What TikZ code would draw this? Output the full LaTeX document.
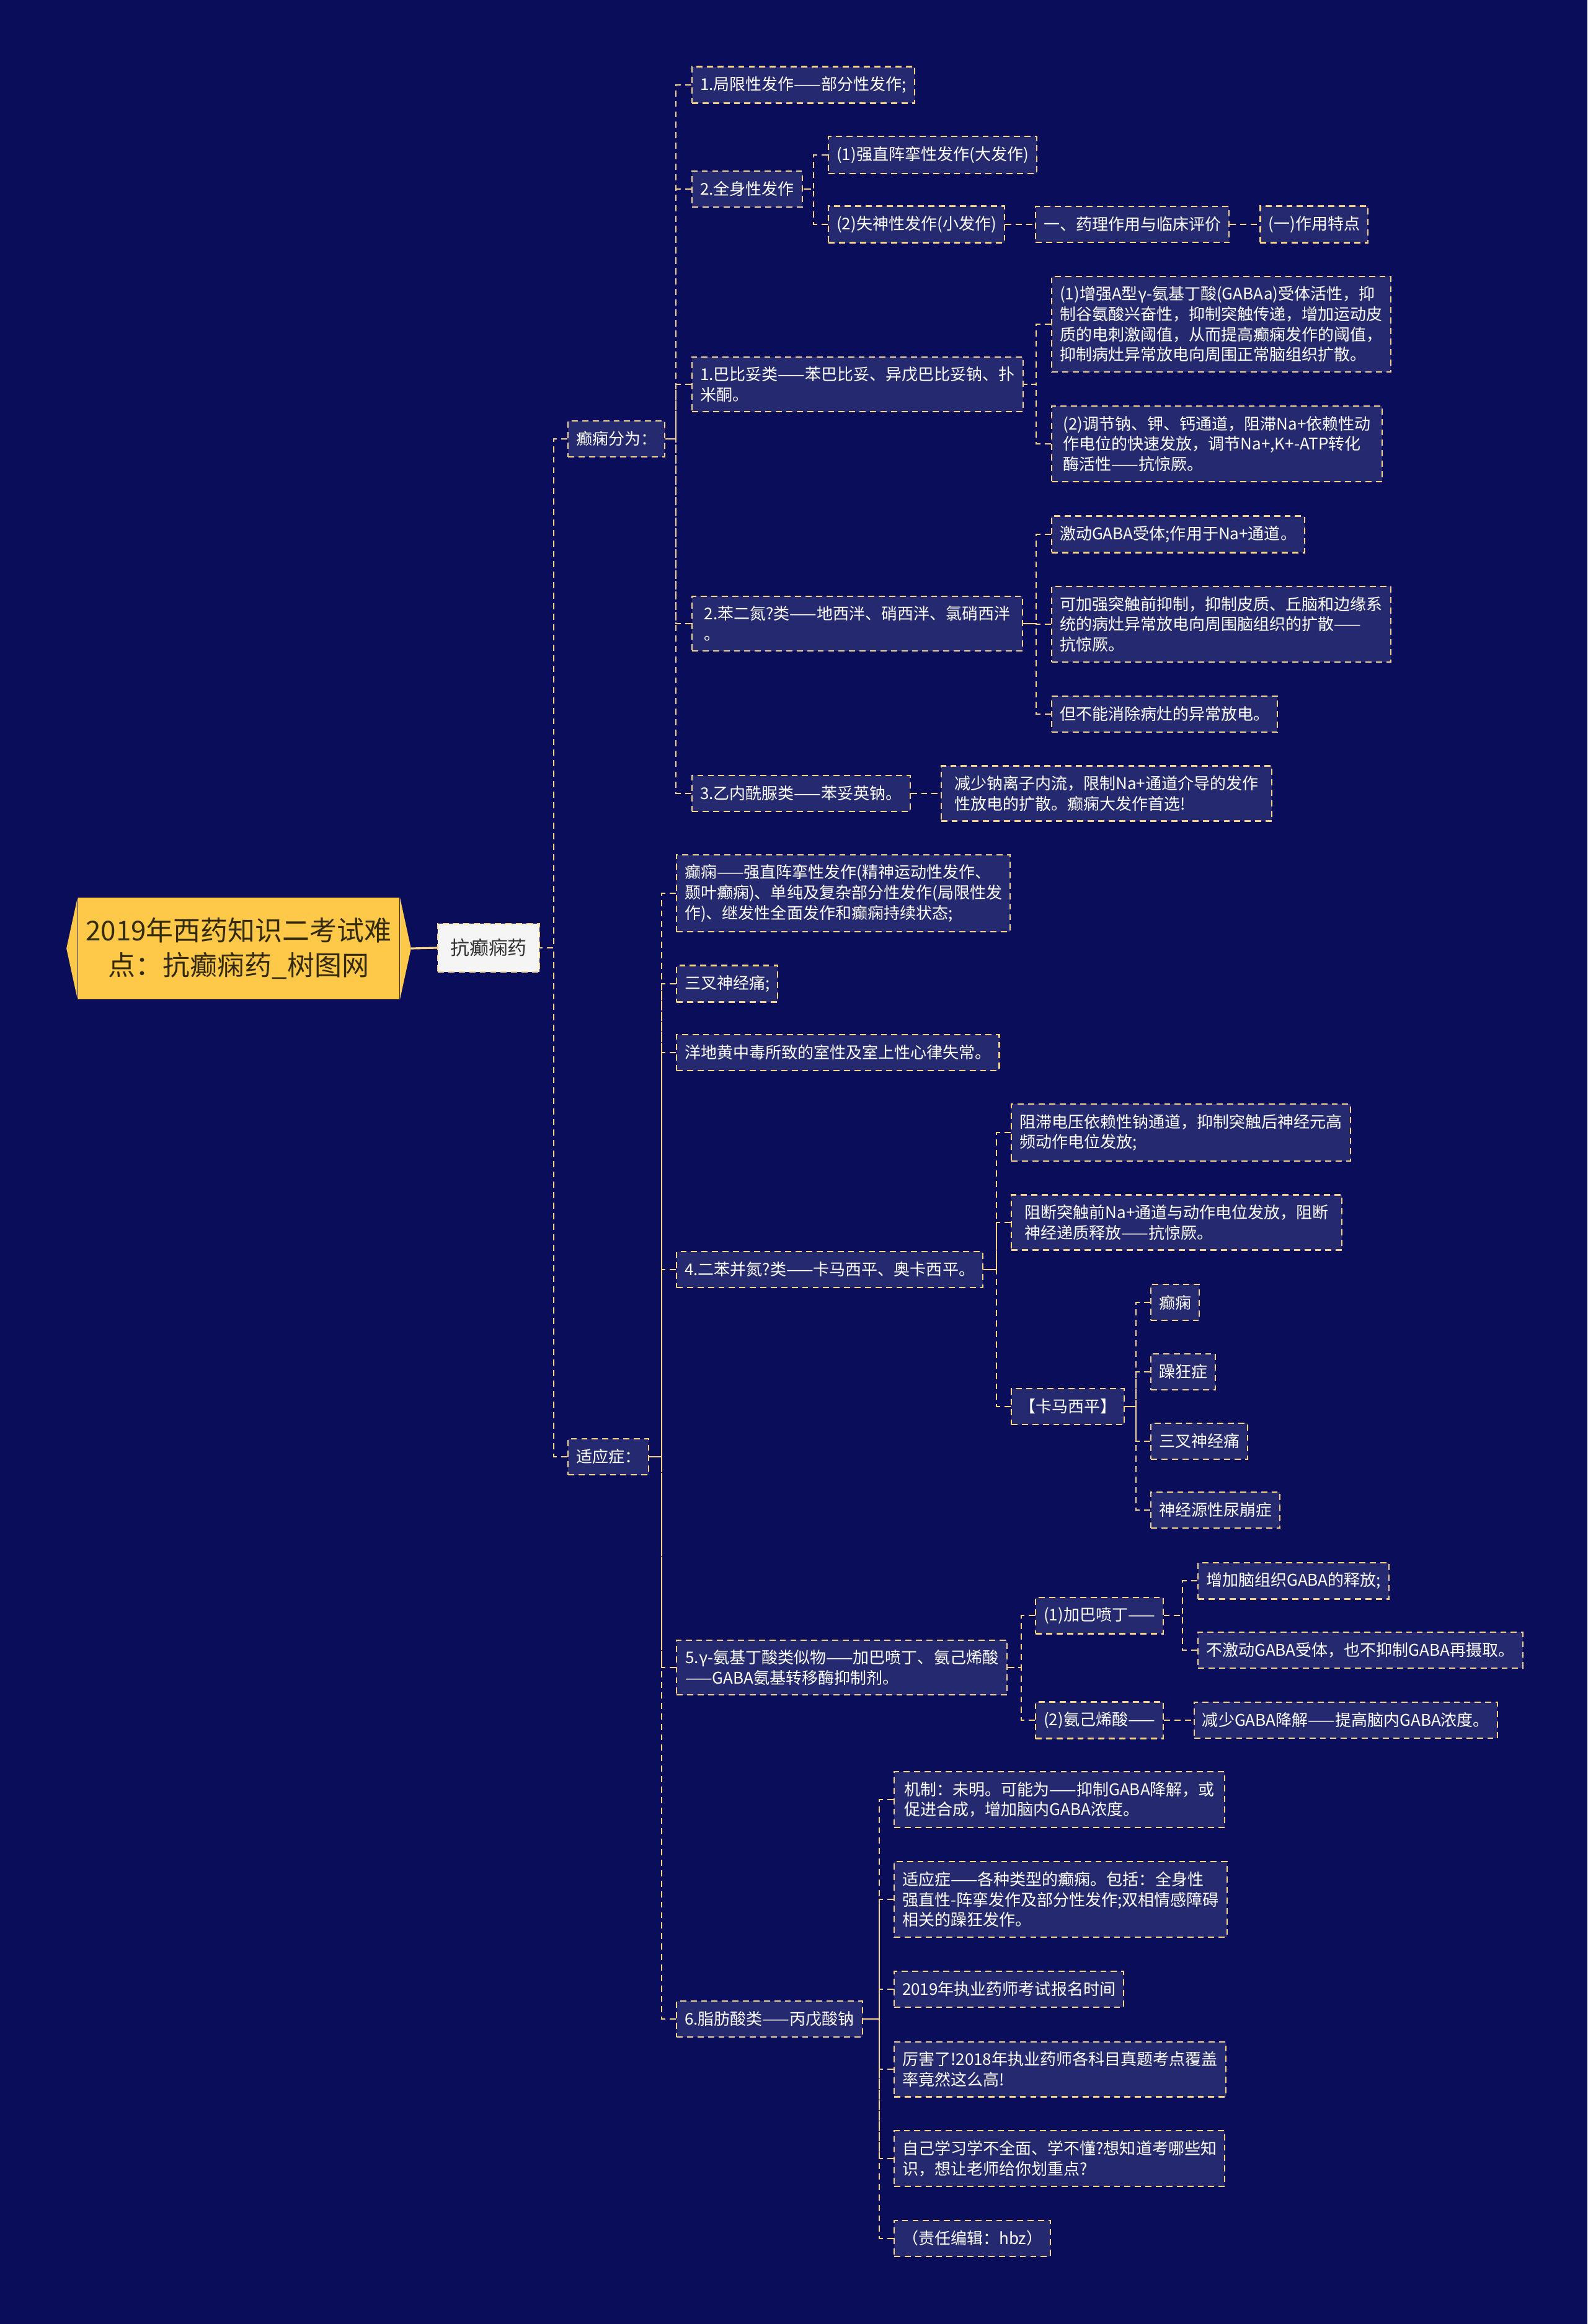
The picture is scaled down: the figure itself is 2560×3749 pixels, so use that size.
\documentclass[tikz,border=0pt]{standalone}
\usepackage{fontspec}
\setmainfont{Noto Sans CJK SC}
\usepackage{tikz}
\usetikzlibrary{positioning}
\definecolor{mapbg}{RGB}{10,14,90}
\definecolor{boxfill}{RGB}{36,41,112}
\definecolor{linegold}{RGB}{246,211,135}
\definecolor{rootgold}{RGB}{254,200,72}
\definecolor{roottext}{RGB}{52,42,12}
\definecolor{hubfill}{RGB}{245,245,245}

\tikzstyle{topic} = [rectangle, fill=rootgold, text=roottext,
font=\fontsize{12.5pt}{16.2pt}\selectfont, align=center,
minimum width=5.18cm, minimum height=1.64cm, inner sep=0pt]
\tikzstyle{hub} = [rectangle, fill=hubfill, draw=linegold, line width=0.6pt,
dash pattern=on 2.8pt off 2pt, text=black!80,
font=\fontsize{8.8pt}{10pt}\selectfont, inner xsep=0.2cm, minimum height=0.78cm]
\tikzstyle{leaf} = [rectangle, fill=boxfill, draw=linegold, line width=0.6pt,
dash pattern=on 2.8pt off 2pt, text=white,
font=\fontsize{7.4pt}{9.3pt}\selectfont, align=left,
inner xsep=0.13cm, inner ysep=0.16cm, minimum height=0.58cm, anchor=west]
\tikzstyle{wideleaf} = [leaf, minimum width=5.33cm]
\tikzstyle{link} = [draw=linegold, line width=0.6pt, dash pattern=on 2.8pt off 2pt]

\begin{document}
\begin{tikzpicture}[x=0.01cm, y=-0.01cm, node distance=0.48cm]
    \fill[mapbg] (0,0) rectangle (2560,3749);
    \useasboundingbox (0,0) rectangle (2560,3749);

    % centre
    \node (root) [topic] at (385,1530) {2019年西药知识二考试难\\点：抗癫痫药\_树图网};
    \fill[rootgold] (root.north west) -- ([xshift=-0.18cm]root.west) -- (root.south west) -- cycle;
    \fill[rootgold] (root.north east) -- ([xshift=0.18cm]root.east) -- (root.south east) -- cycle;
    \node (hub) [hub] at (788,1529) {抗癫痫药};
    \node (epi)   [leaf] at (915,708)  {癫痫分为：};
    \node (indic) [leaf] at (915,2350) {适应症：};

    % 癫痫分为
    \node (focal)    [leaf] at (1115,137) {1.局限性发作——部分性发作;};
    \node (general)  [leaf] at (1115,305) {2.全身性发作};
    \node (tonic)    [leaf] at (1335,250) {(1)强直阵挛性发作(大发作)};
    \node (absence)  [leaf] at (1335,362) {(2)失神性发作(小发作)};
    \node (pharm)    [leaf, right=of absence] {一、药理作用与临床评价};
    \node (feature)  [leaf, right=of pharm]   {(一)作用特点};
    \node (barb)     [wideleaf] at (1115,620) {1.巴比妥类——苯巴比妥、异戊巴比妥钠、扑\\米酮。};
    \node (barbA)    [wideleaf] at (1695,523) {(1)增强A型γ-氨基丁酸(GABAa)受体活性，抑\\制谷氨酸兴奋性，抑制突触传递，增加运动皮\\质的电刺激阈值，从而提高癫痫发作的阈值，\\抑制病灶异常放电向周围正常脑组织扩散。};
    \node (barbB)    [wideleaf] at (1695,716) {(2)调节钠、钾、钙通道，阻滞Na+依赖性动\\作电位的快速发放，调节Na+,K+-ATP转化\\酶活性——抗惊厥。};
    \node (benzo)    [wideleaf] at (1115,1006) {2.苯二氮?类——地西泮、硝西泮、氯硝西泮\\。};
    \node (benzoA)   [leaf] at (1695,862)  {激动GABA受体;作用于Na+通道。};
    \node (benzoB)   [wideleaf] at (1695,1007) {可加强突触前抑制，抑制皮质、丘脑和边缘系\\统的病灶异常放电向周围脑组织的扩散——\\抗惊厥。};
    \node (benzoC)   [leaf] at (1695,1152) {但不能消除病灶的异常放电。};
    \node (hydan)    [leaf] at (1115,1280) {3.乙内酰脲类——苯妥英钠。};
    \node (hydanA)   [wideleaf, right=of hydan] {减少钠离子内流，限制Na+通道介导的发作\\性放电的扩散。癫痫大发作首选!};

    % 适应症
    \node (useEpi)   [wideleaf] at (1090,1441) {癫痫——强直阵挛性发作(精神运动性发作、\\颞叶癫痫)、单纯及复杂部分性发作(局限性发\\作)、继发性全面发作和癫痫持续状态;};
    \node (useTrig)  [leaf] at (1090,1587) {三叉神经痛;};
    \node (digox)    [leaf] at (1090,1698) {洋地黄中毒所致的室性及室上性心律失常。};
    \node (carba)    [leaf] at (1090,2048) {4.二苯并氮?类——卡马西平、奥卡西平。};
    \node (carbaA)   [wideleaf] at (1630,1827) {阻滞电压依赖性钠通道，抑制突触后神经元高\\频动作电位发放;};
    \node (carbaB)   [wideleaf] at (1630,1972) {阻断突触前Na+通道与动作电位发放，阻断\\神经递质释放——抗惊厥。};
    \node (carbaTag) [leaf] at (1630,2269) {【卡马西平】};
    \node (tagEpi)   [leaf] at (1855,2101) {癫痫};
    \node (tagMania) [leaf] at (1855,2213) {躁狂症};
    \node (tagTrig)  [leaf] at (1855,2325) {三叉神经痛};
    \node (tagDI)    [leaf] at (1855,2436) {神经源性尿崩症};
    \node (gabaAna)  [wideleaf] at (1090,2690) {5.γ-氨基丁酸类似物——加巴喷丁、氨己烯酸\\——GABA氨基转移酶抑制剂。};
    \node (gaba)     [leaf] at (1669,2606) {(1)加巴喷丁——};
    \node (gabaA)    [leaf] at (1931,2550) {增加脑组织GABA的释放;};
    \node (gabaB)    [leaf] at (1931,2662) {不激动GABA受体，也不抑制GABA再摄取。};
    \node (vigab)    [leaf] at (1669,2775) {(2)氨己烯酸——};
    \node (vigabA)   [leaf, right=of vigab] {减少GABA降解——提高脑内GABA浓度。};
    \node (valp)     [leaf] at (1090,3257) {6.脂肪酸类——丙戊酸钠};
    \node (valpA)    [wideleaf] at (1441,2903) {机制：未明。可能为——抑制GABA降解，或\\促进合成，增加脑内GABA浓度。};
    \node (valpB)    [wideleaf] at (1441,3064) {适应症——各种类型的癫痫。包括：全身性\\强直性-阵挛发作及部分性发作;双相情感障碍\\相关的躁狂发作。};
    \node (valpC)    [leaf] at (1441,3209) {2019年执业药师考试报名时间};
    \node (valpD)    [wideleaf] at (1441,3338) {厉害了!2018年执业药师各科目真题考点覆盖\\率竟然这么高!};
    \node (valpE)    [wideleaf] at (1441,3482) {自己学习学不全面、学不懂?想知道考哪些知\\识，想让老师给你划重点?};
    \node (valpF)    [leaf] at (1441,3611) {（责任编辑：hbz）};

    % connectors
    \draw[linegold, line width=0.9pt] ([xshift=0.18cm]root.east) -- (hub.west);
    \draw[link] (epi.west)   -- ++(-22,0) |- (hub.east);
    \draw[link] (indic.west) -- ++(-22,0) |- (hub.east);

    \draw[link] (focal.west)   -- ++(-25,0) |- (epi.east);
    \draw[link] (general.west) -- ++(-25,0) |- (epi.east);
    \draw[link] (barb.west)    -- ++(-25,0) |- (epi.east);
    \draw[link] (benzo.west)   -- ++(-25,0) |- (epi.east);
    \draw[link] (hydan.west)   -- ++(-25,0) |- (epi.east);
    \draw[link] (tonic.west)   -- ++(-23,0) |- (general.east);
    \draw[link] (absence.west) -- ++(-23,0) |- (general.east);
    \draw[link] (absence) -- (pharm);
    \draw[link] (pharm)   -- (feature);
    \draw[link] (barbA.west)  -- ++(-24,0) |- (barb.east);
    \draw[link] (barbB.west)  -- ++(-24,0) |- (barb.east);
    \draw[link] (benzoA.west) -- ++(-24,0) |- (benzo.east);
    \draw[link] (benzoB.west) -- ++(-24,0) |- (benzo.east);
    \draw[link] (benzoC.west) -- ++(-24,0) |- (benzo.east);
    \draw[link] (hydan) -- (hydanA);

    \draw[link] (useEpi.west)  -- ++(-23,0) |- (indic.east);
    \draw[link] (useTrig.west) -- ++(-23,0) |- (indic.east);
    \draw[link] (digox.west)   -- ++(-23,0) |- (indic.east);
    \draw[link] (carba.west)   -- ++(-23,0) |- (indic.east);
    \draw[link] (gabaAna.west) -- ++(-23,0) |- (indic.east);
    \draw[link] (valp.west)    -- ++(-23,0) |- (indic.east);
    \draw[link] (carbaA.west)   -- ++(-23,0) |- (carba.east);
    \draw[link] (carbaB.west)   -- ++(-23,0) |- (carba.east);
    \draw[link] (carbaTag.west) -- ++(-23,0) |- (carba.east);
    \draw[link] (tagEpi.west)   -- ++(-23,0) |- (carbaTag.east);
    \draw[link] (tagMania.west) -- ++(-23,0) |- (carbaTag.east);
    \draw[link] (tagTrig.west)  -- ++(-23,0) |- (carbaTag.east);
    \draw[link] (tagDI.west)    -- ++(-23,0) |- (carbaTag.east);
    \draw[link] (gaba.west)  -- ++(-22,0) |- (gabaAna.east);
    \draw[link] (vigab.west) -- ++(-22,0) |- (gabaAna.east);
    \draw[link] (gabaA.west) -- ++(-24,0) |- (gaba.east);
    \draw[link] (gabaB.west) -- ++(-24,0) |- (gaba.east);
    \draw[link] (vigab) -- (vigabA);
    \draw[link] (valpA.west) -- ++(-23,0) |- (valp.east);
    \draw[link] (valpB.west) -- ++(-23,0) |- (valp.east);
    \draw[link] (valpC.west) -- ++(-23,0) |- (valp.east);
    \draw[link] (valpD.west) -- ++(-23,0) |- (valp.east);
    \draw[link] (valpE.west) -- ++(-23,0) |- (valp.east);
    \draw[link] (valpF.west) -- ++(-23,0) |- (valp.east);
\end{tikzpicture}
\end{document}
